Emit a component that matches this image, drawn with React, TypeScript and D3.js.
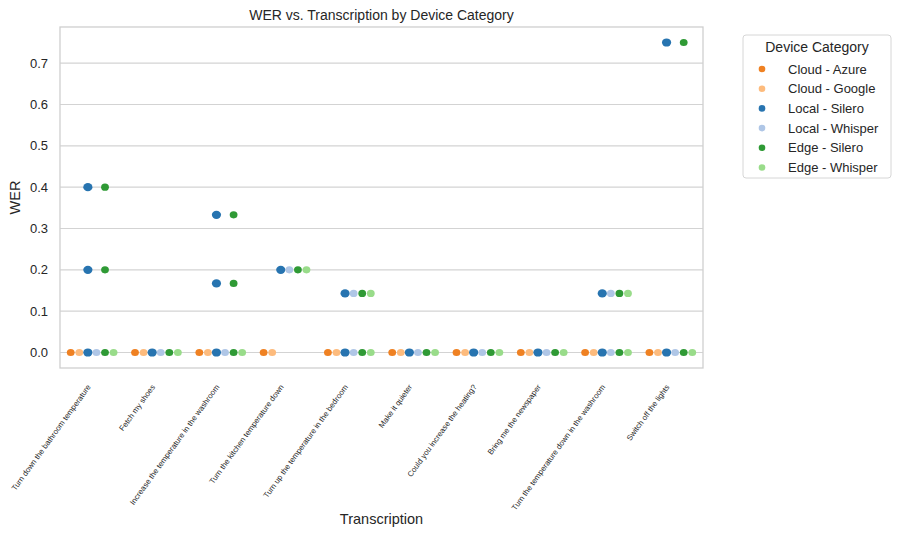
import React from "react";
import * as d3 from "d3";

// categories on the x axis
const transcriptions = [
  "Turn down the bathroom temperature",
  "Fetch my shoes",
  "Increase the temperature in the washroom",
  "Turn the kitchen temperature down",
  "Turn up the temperature in the bedroom",
  "Make it quieter",
  "Could you increase the heating?",
  "Bring me the newspaper",
  "Turn the temperature down in the washroom",
  "Switch off the lights",
];

const devices = [
  "Cloud - Azure",
  "Cloud - Google",
  "Local - Silero",
  "Local - Whisper",
  "Edge - Silero",
  "Edge - Whisper",
];

const deviceColors = ["#ef8122", "#fdbb7d", "#2774b0", "#afc6e6", "#2f9a35", "#99dc8a"];

// WER values per device, one list per transcription
const cloudAzure = [[0], [0], [0], [0], [0], [0], [0], [0], [0], [0]];
const cloudGoogle = [[0], [0], [0], [0], [0], [0], [0], [0], [0], [0]];
const localSilero = [
  [0, 0.2, 0.4], [0], [0, 0.167, 0.333], [0.2], [0, 0.143],
  [0], [0], [0], [0, 0.143], [0, 0.75],
];
const localWhisper = [[0], [0], [0], [0.2], [0, 0.143], [0], [0], [0], [0, 0.143], [0]];
const edgeSilero = [
  [0, 0.2, 0.4], [0], [0, 0.167, 0.333], [0.2], [0, 0.143],
  [0], [0], [0], [0, 0.143], [0, 0.75],
];
const edgeWhisper = [[0], [0], [0], [0.2], [0, 0.143], [0], [0], [0], [0, 0.143], [0]];

const seriesValues = [cloudAzure, cloudGoogle, localSilero, localWhisper, edgeSilero, edgeWhisper];

const yTickValues = [0, 0.1, 0.2, 0.3, 0.4, 0.5, 0.6, 0.7];

const width = 900;
const height = 536;
const marginLeft = 60;
const marginRight = 197;
const marginTop = 27;
const marginBottom = 168;
const font = "'Liberation Sans', Arial, sans-serif";

export default function App() {
  const x = d3
    .scaleBand<string>()
    .domain(transcriptions)
    .range([marginLeft, width - marginRight])
    .padding(0);
  const bw = x.bandwidth();
  const dodge = d3
    .scaleBand<string>()
    .domain(devices)
    .range([-0.4 * bw, 0.4 * bw]);
  const hw = dodge.bandwidth();

  const y = d3
    .scaleLinear()
    .domain([-0.0375, 0.7875])
    .range([height - marginBottom, marginTop]);

  const points: any[] = [];
  seriesValues.forEach((series, di) => {
    series.forEach((vals, ci) => {
      vals.forEach((v, k) => {
        points.push({
          key: `${di}-${ci}-${k}`,
          cx: (x(transcriptions[ci]) as number) + bw / 2 + (dodge(devices[di]) as number) + hw / 2,
          cy: y(v),
          color: deviceColors[di],
          big: di === 2,
        });
      });
    });
  });

  const plotRight = width - marginRight;
  const plotBottom = height - marginBottom;

  return (
    <svg
      width={width}
      height={height}
      style={{ position: "absolute", left: 0, top: 0, background: "#fff" }}
      fontFamily={font}
    >
      <rect width={width} height={height} fill="#fff" />
      {/* grid */}
      {yTickValues.map((t) => (
        <g key={t}>
          <line x1={marginLeft} x2={plotRight} y1={y(t)} y2={y(t)} stroke="#d3d3d3" strokeWidth={1.2} />
          <text x={48} y={y(t)} dy="0.35em" textAnchor="end" fontSize={13} fill="#262626">
            {t.toFixed(1)}
          </text>
        </g>
      ))}
      {/* frame */}
      <rect
        x={marginLeft}
        y={marginTop}
        width={plotRight - marginLeft}
        height={plotBottom - marginTop}
        fill="none"
        stroke="#cfcfcf"
        strokeWidth={1.3}
      />
      {/* points */}
      {points.map((p) => (
        <ellipse
          key={p.key}
          cx={p.cx}
          cy={p.cy}
          rx={p.big ? 4.6 : 3.9}
          ry={p.big ? 4.1 : 3.6}
          fill={p.color}
        />
      ))}
      {/* x tick labels */}
      {transcriptions.map((c) => {
        const tx = (x(c) as number) + bw / 2 - 1;
        const ty = 387;
        return (
          <text
            key={c}
            x={tx}
            y={ty}
            textAnchor="end"
            fontSize={7.8}
            fill="#262626"
            transform={`rotate(-54,${tx},${ty})`}
          >
            {c}
          </text>
        );
      })}
      {/* titles */}
      <text x={(marginLeft + plotRight) / 2} y={20} textAnchor="middle" fontSize={14} fill="#262626">
        WER vs. Transcription by Device Category
      </text>
      <text x={(marginLeft + plotRight) / 2} y={524} textAnchor="middle" fontSize={14.5} fill="#262626">
        Transcription
      </text>
      <text
        x={0}
        y={0}
        textAnchor="middle"
        fontSize={14.5}
        fill="#262626"
        transform={`translate(20,${(marginTop + plotBottom) / 2}) rotate(-90)`}
      >
        WER
      </text>
      {/* legend */}
      <g transform="translate(743,35)">
        <rect x={0} y={0} width={148} height={143} rx={3} fill="#fff" stroke="#d6d6d6" strokeWidth={1} />
        <text x={74} y={17} textAnchor="middle" fontSize={14} fill="#262626">
          Device Category
        </text>
        {devices.map((d, i) => (
          <g key={d} transform={`translate(0,${34 + i * 19.7})`}>
            <circle cx={19} cy={0} r={3.3} fill={deviceColors[i]} />
            <text x={45} y={0} dy="0.35em" fontSize={13} fill="#262626">
              {d}
            </text>
          </g>
        ))}
      </g>
    </svg>
  );
}
